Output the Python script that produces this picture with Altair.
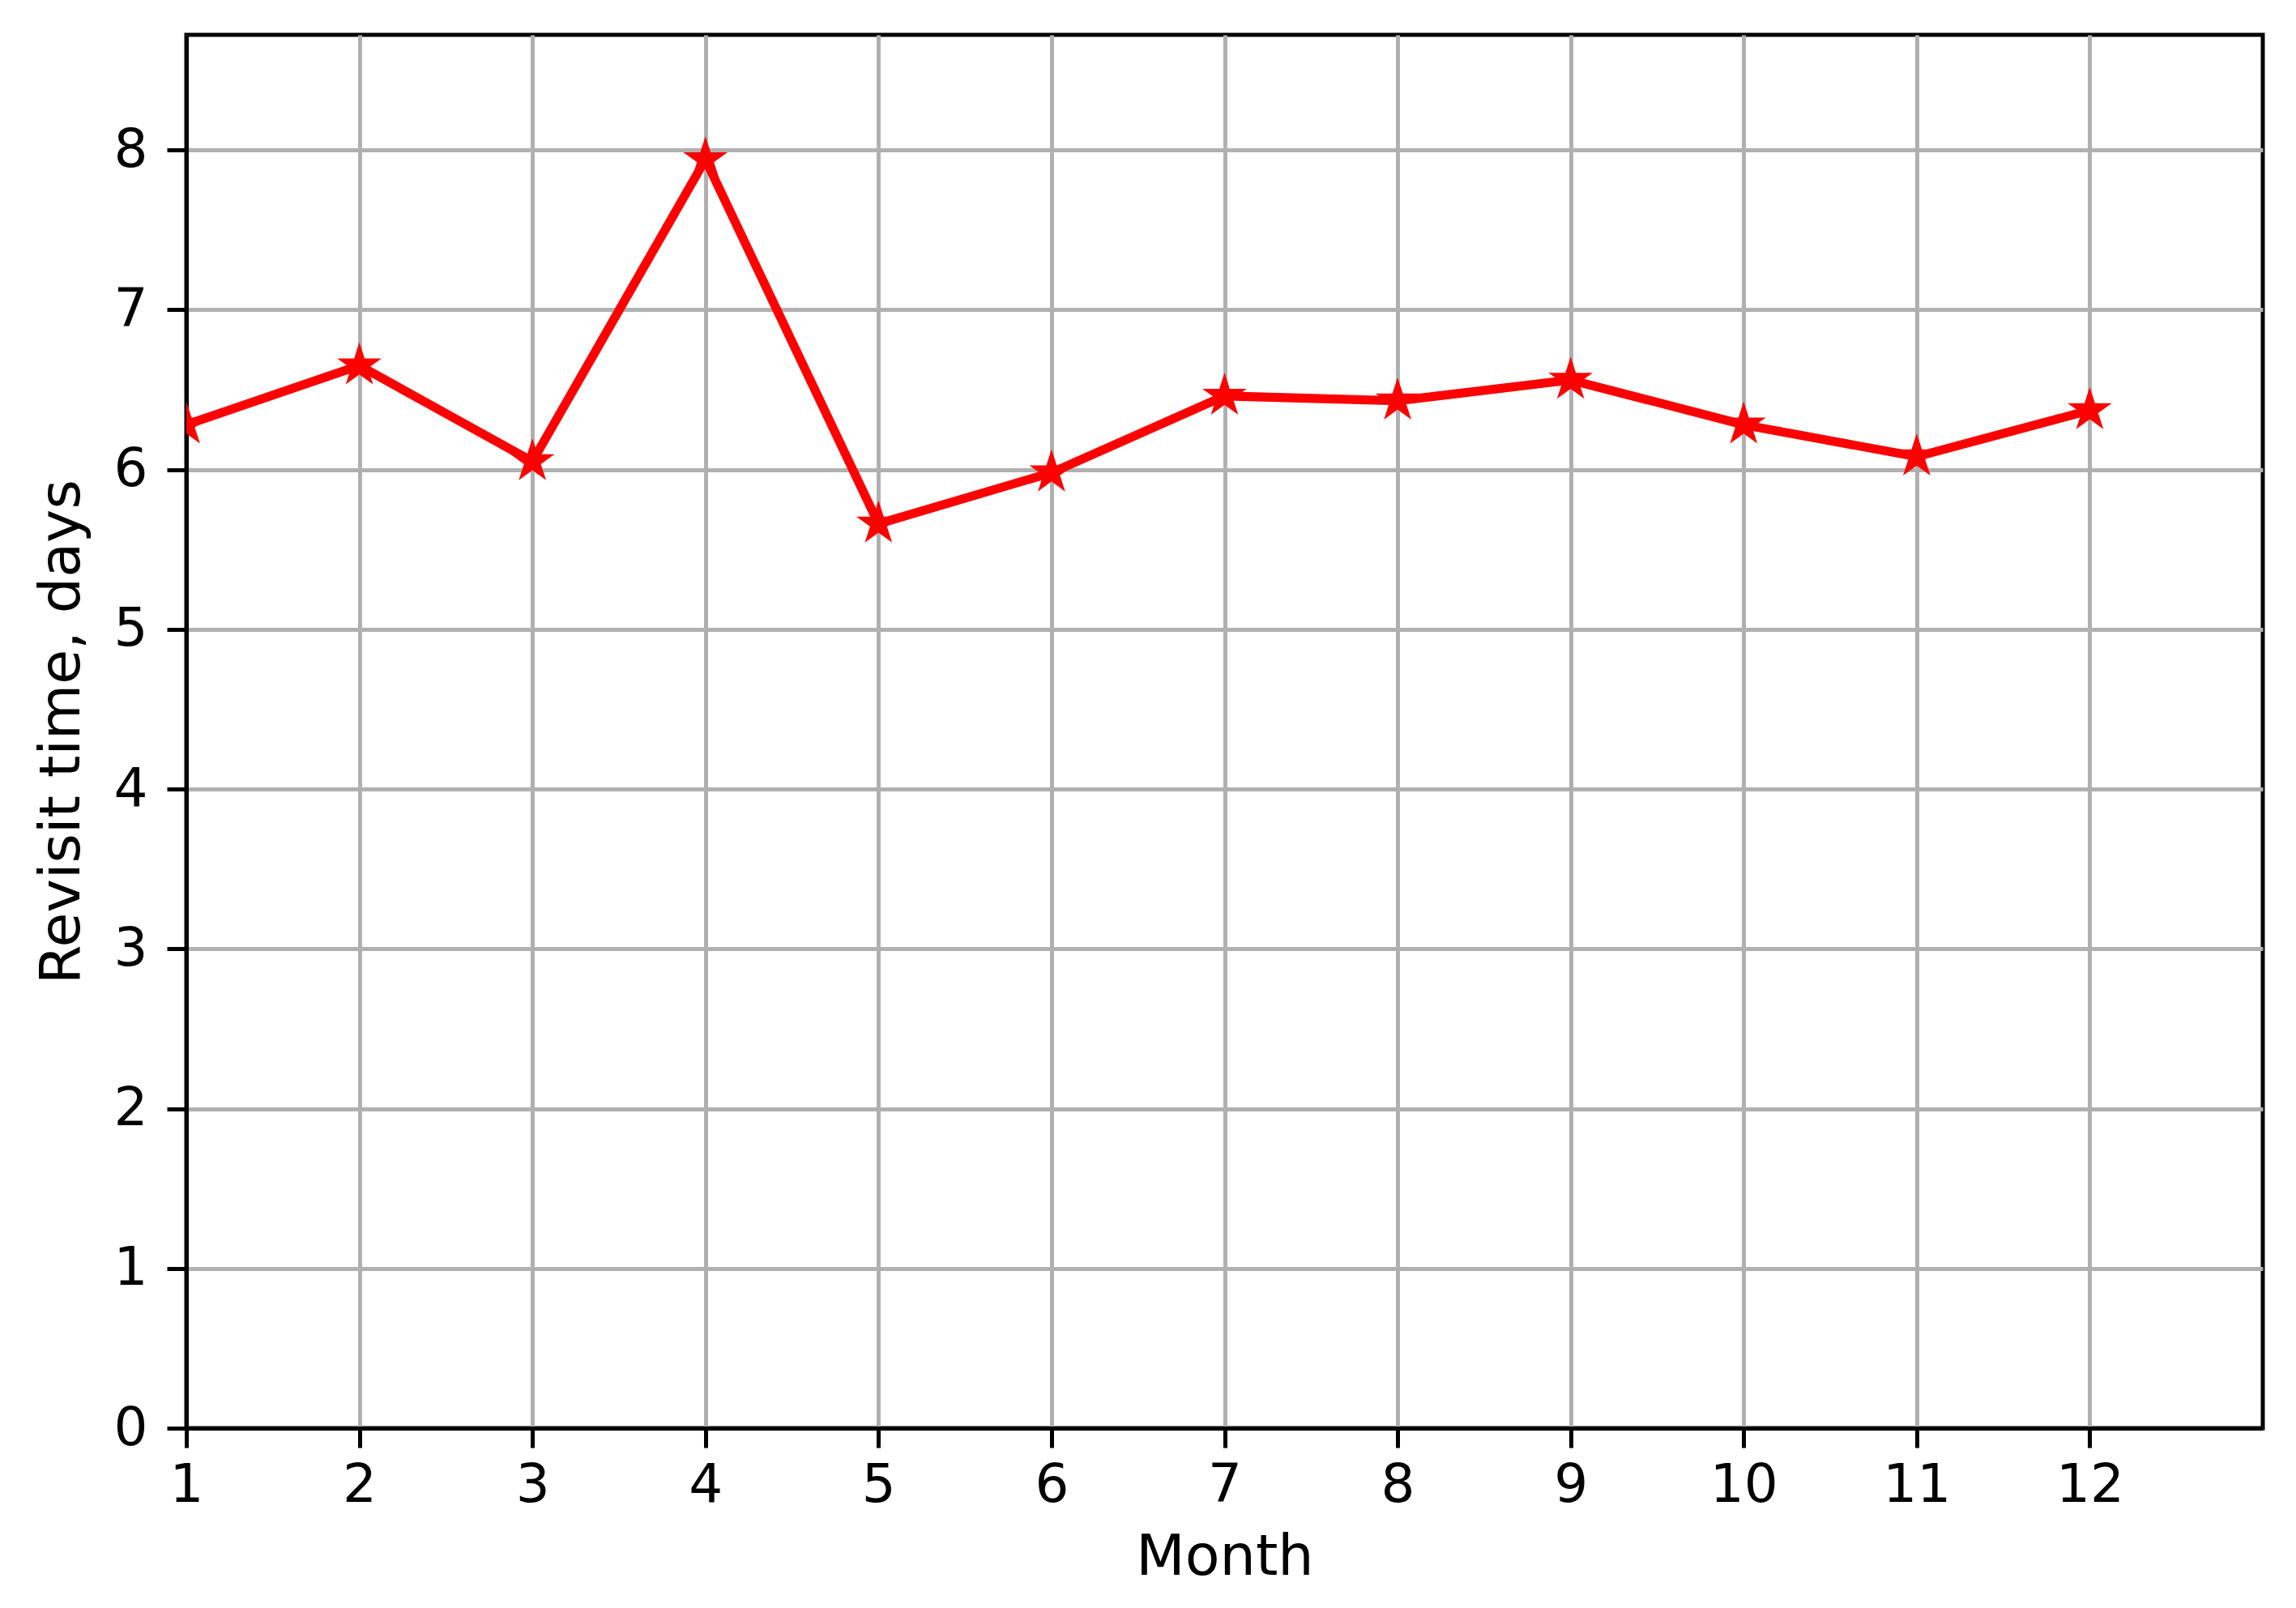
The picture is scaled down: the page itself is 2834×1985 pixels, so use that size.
import math
import altair as alt
import pandas as pd

months = [1, 2, 3, 4, 5, 6, 7, 8, 9, 10, 11, 12]
revisit = [6.28, 6.65, 6.05, 7.94, 5.66, 5.98, 6.46, 6.43, 6.56, 6.28, 6.08, 6.37]
x_ticks = [1, 2, 3, 4, 5, 6, 7, 8, 9, 10, 11, 12]
y_ticks = [0, 1, 2, 3, 4, 5, 6, 7, 8]

df = pd.DataFrame({"Month": months, "Revisit": revisit})

# five-pointed star symbol path in [-1, 1]
pts = []
for k in range(10):
    a = math.radians(-90 + 36 * k)
    r = 1.0 if k % 2 == 0 else 0.382
    pts.append(f"{r * math.cos(a):.4f},{r * math.sin(a):.4f}")
star = "M" + " L".join(pts) + " Z"

FONT = "DejaVu Sans"
LFS = 66
TFS = 70

common_axis = dict(
    labelFontSize=LFS,
    titleFontSize=TFS,
    labelFont=FONT,
    titleFont=FONT,
    labelColor="black",
    titleColor="black",
    titleFontWeight="normal",
    tickSize=24,
    tickWidth=5,
    tickColor="black",
    domainColor="black",
    domainWidth=5,
    gridColor="#b0b0b0",
    gridWidth=5,
    labelFlush=False,
    labelOverlap=False,
    format="d",
)

x = alt.X(
    "Month:Q",
    scale=alt.Scale(domain=[1, 13], nice=False, zero=False),
    axis=alt.Axis(title="Month", values=x_ticks, labelPadding=14, titlePadding=22, **common_axis),
)
y = alt.Y(
    "Revisit:Q",
    scale=alt.Scale(domain=[0, 8.72], nice=False, zero=True),
    axis=alt.Axis(title="Revisit time, days", values=y_ticks, labelPadding=24, titlePadding=28, **common_axis),
)

line = alt.Chart(df).mark_line(color="red", strokeWidth=11, clip=True).encode(x=x, y=y)
points = alt.Chart(df).mark_point(
    shape=star, filled=True, fill="red", stroke="red", strokeWidth=5,
    size=1700, opacity=1, clip=True
).encode(x=x, y=y)

chart = (
    alt.layer(line, points)
    .properties(
        width=2563,
        height=1720,
        background="white",
        autosize=alt.AutoSizeParams(type="none"),
        padding={"left": 222, "top": 35, "right": 30, "bottom": 200},
    )
    .configure_view(stroke="black", strokeWidth=5)
)

chart.save("out.html", embed_options={"renderer": "svg", "actions": False})
